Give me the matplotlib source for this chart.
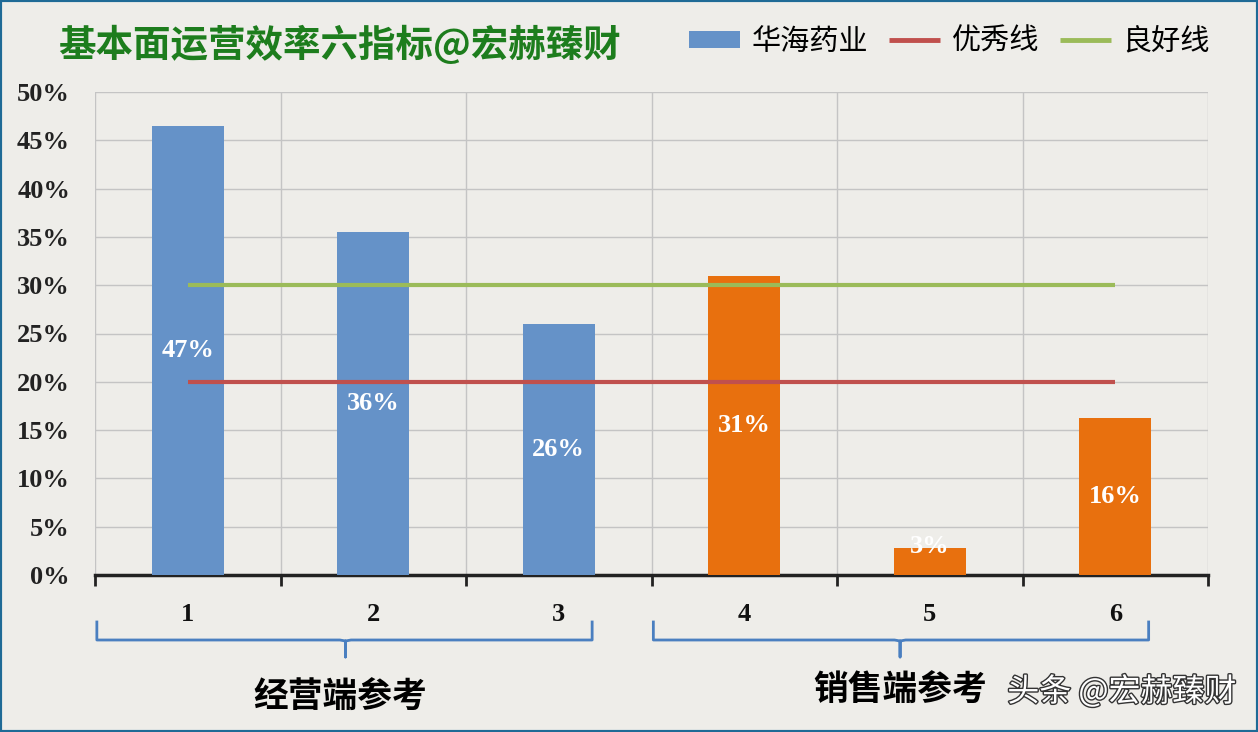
import matplotlib
matplotlib.use("Agg")
import matplotlib.pyplot as plt
import matplotlib.patheffects as pe
from matplotlib.patches import Patch, Rectangle
from matplotlib.lines import Line2D
from matplotlib.transforms import blended_transform_factory

plt.rcParams['font.family'] = ['Noto Sans CJK SC', 'DejaVu Sans']

# data
categories = [1, 2, 3, 4, 5, 6]
values = [0.465, 0.355, 0.26, 0.31, 0.028, 0.163]
labels = ["47%", "36%", "26%", "31%", "3%", "16%"]
excellent = [0.20, 0.20, 0.20, 0.20, 0.20, 0.20]
good = [0.30, 0.30, 0.30, 0.30, 0.30, 0.30]
yticks = [0, 0.05, 0.10, 0.15, 0.20, 0.25, 0.30, 0.35, 0.40, 0.45, 0.50]
group_names = ["经营端参考", "销售端参考"]

bg = "#eeede9"
blue = "#6592c8"
orange = "#e8700e"
red = "#c0504d"
green = "#9bbb59"
bar_colors = [blue, blue, blue, orange, orange, orange]

fig = plt.figure(figsize=(12.58, 7.32), dpi=100, facecolor=bg)
ax = fig.add_axes([95 / 1258, 1 - 575 / 732, 1113 / 1258, 483 / 732])
ax.set_facecolor(bg)

ax.bar(categories, values, width=0.39, color=bar_colors, zorder=3)
ax.plot(categories, good, color=green, lw=3, zorder=4, solid_capstyle='butt')
ax.plot(categories, excellent, color=red, lw=3, zorder=4, solid_capstyle='butt')

for x, v, t in zip(categories, values, labels):
    y = max(v / 2, 0.03)
    ax.text(x, y, t, ha='center', va='center', color='white', fontsize=19,
            fontweight='bold', family='Liberation Serif', zorder=5)

ax.set_xlim(0.5, 6.5)
ax.set_ylim(0, 0.5)
ax.set_yticks(yticks)
ax.set_yticklabels([f"{int(round(t * 100))}%" for t in yticks],
                   family='Liberation Serif', fontweight='bold', fontsize=19, color='#222222')
ax.set_xticks(categories)
ax.set_xticklabels([str(c) for c in categories], family='Liberation Serif',
                   fontweight='bold', fontsize=19, color='#111111')
ax.set_xticks([c + 0.5 for c in [0] + categories], minor=True)
ax.tick_params(axis='y', length=0, pad=18)
ax.tick_params(axis='x', which='major', length=0, pad=20)
ax.tick_params(axis='x', which='minor', length=8, width=2, direction='out', color='#222222')

ax.grid(axis='y', color='#c4c4c4', lw=1, zorder=0)
ax.grid(axis='x', which='minor', color='#c4c4c4', lw=1, zorder=0)
for s in ['top', 'right', 'left']:
    ax.spines[s].set_visible(False)
ax.spines['bottom'].set_linewidth(2.5)
ax.spines['bottom'].set_color('#222222')

# group brackets
tr = blended_transform_factory(ax.transData, fig.transFigure)
def yf(py):
    return 1 - py / 732

for (x0, x1, xc) in [(0.51, 3.18, 1.85), (3.51, 6.18, 4.84)]:
    xs = [x0, x0, xc - 0.03, xc, xc, xc, xc + 0.03, x1, x1]
    ys = [yf(622), yf(640), yf(640), yf(641), yf(657), yf(641), yf(640), yf(640), yf(622)]
    ax.plot(xs, ys, color='#4a7fc0', lw=2, transform=tr, clip_on=False)

fig.text(340 / 1258, yf(697), group_names[0], ha='center', va='center',
         fontsize=25, fontweight='bold', color='black')
fig.text(900 / 1258, yf(690), group_names[1], ha='center', va='center',
         fontsize=25, fontweight='bold', color='black')
fig.text(1122 / 1258, yf(692), "头条 @宏赫臻财", ha='center', va='center',
         fontsize=23, color='white',
         path_effects=[pe.withStroke(linewidth=2, foreground='#333333')])

# title
fig.text(58 / 1258, yf(45), "基本面运营效率六指标@宏赫臻财", ha='left', va='center',
         fontsize=27, fontweight='bold', color='#1d7d1d')

# legend
handles = [Patch(facecolor=blue),
           Line2D([], [], color=red, lw=3.5, solid_capstyle='butt'),
           Line2D([], [], color=green, lw=3.5, solid_capstyle='butt')]
fig.legend(handles, ["华海药业", "优秀线", "良好线"], loc='center right',
           bbox_to_anchor=(1230 / 1258, yf(42)), ncol=3, frameon=False,
           fontsize=21, handlelength=1.75, handleheight=0.55, columnspacing=0.7,
           handletextpad=0.4, borderpad=0.2)

# outer frame
fig.patches.append(Rectangle((0, 0), 1, 1, transform=fig.transFigure, fill=False,
                             edgecolor='#1f6a96', lw=3))

fig.savefig("out.png", dpi=100, facecolor=bg)
